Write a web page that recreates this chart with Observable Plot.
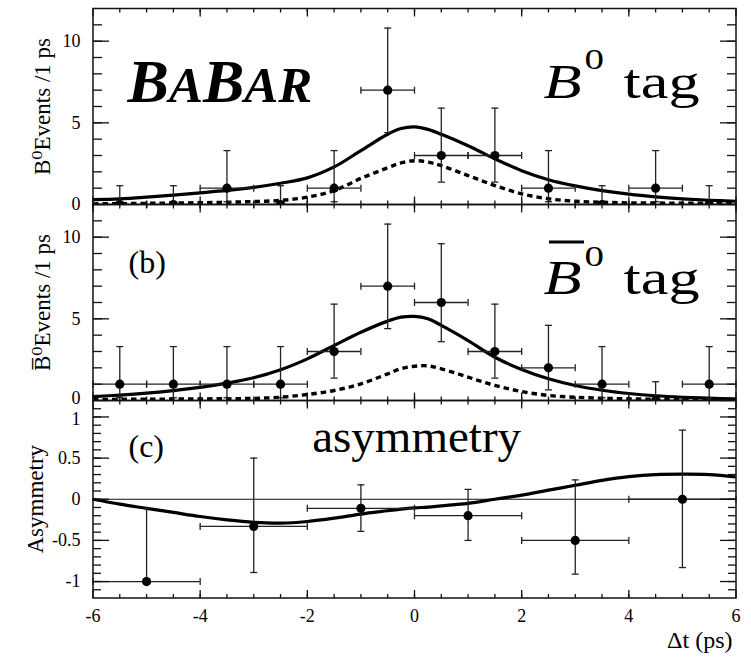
<!DOCTYPE html>
<html>
<head>
<meta charset="utf-8">
<script src="https://cdn.jsdelivr.net/npm/d3@7"></script>
<script src="https://cdn.jsdelivr.net/npm/@observablehq/plot@0.6"></script>
<style>
  html, body { margin: 0; padding: 0; background: #ffffff; }
  #chart { position: relative; width: 751px; height: 658px; overflow: hidden; background: #ffffff;
           font-family: 'Liberation Serif', 'Times New Roman', Times, 'DejaVu Serif', serif; }
  #chart svg { position: absolute; left: 0; }
  #chart svg text { font-family: 'Liberation Serif', 'Times New Roman', Times, 'DejaVu Serif', serif; }
</style>
</head>
<body>
<div id="chart"></div>
<script>
// ---------------- data ----------------
const binCenters = [-5.5, -4.5, -3.5, -2.5, -1.5, -0.5, 0.5, 1.5, 2.5, 3.5, 4.5, 5.5];
const binHalfWidth = 0.5;

// (a) B0 tag
const b0Counts  = [0, 0, 1, 0, 1, 7, 3, 3, 1, 0, 1, 0];
const b0ErrLow  = [0, 0, 0.17, 0, 0.17, 4.4, 1.37, 1.37, 0.17, 0, 0.17, 0];
const b0ErrHigh = [1.15, 1.15, 3.3, 1.15, 3.3, 10.8, 5.9, 5.9, 3.3, 1.15, 3.3, 1.15];

// (b) B0bar tag
const b0barCounts  = [1, 1, 1, 1, 3, 7, 6, 3, 2, 1, 0, 1];
const b0barErrLow  = [0.17, 0.17, 0.17, 0.17, 1.37, 4.4, 3.6, 1.37, 0.65, 0.17, 0, 0.17];
const b0barErrHigh = [3.3, 3.3, 3.3, 3.3, 5.9, 10.8, 9.6, 5.9, 4.6, 3.3, 1.15, 3.3];

// (c) asymmetry
const asymCenters   = [-5, -3, -1, 1, 3, 5];
const asymHalfWidth = 1;
const asymValues    = [-1, -0.33, -0.11, -0.2, -0.5, 0];
const asymErrLow    = [-1, -0.89, -0.39, -0.5, -0.91, -0.83];
const asymErrHigh   = [-0.11, 0.5, 0.175, 0.12, 0.235, 0.84];

// fit curves
const curveX      = [-6, -5.5, -5, -4.5, -4, -3.5, -3, -2.5, -2, -1.5, -1, -0.5, -0.25, 0, 0.25, 0.5, 1, 1.5, 2, 2.5, 3, 3.5, 4, 4.5, 5, 5.5, 6];
const b0Fit       = [0.30, 0.35, 0.45, 0.57, 0.71, 0.86, 1.05, 1.30, 1.63, 2.30, 3.30, 4.30, 4.65, 4.75, 4.60, 4.30, 3.60, 2.80, 2.07, 1.52, 1.14, 0.85, 0.63, 0.47, 0.35, 0.26, 0.20];
const b0Dashed    = [0.04, 0.05, 0.07, 0.09, 0.11, 0.14, 0.18, 0.25, 0.45, 0.85, 1.60, 2.25, 2.55, 2.68, 2.60, 2.38, 1.77, 1.16, 0.65, 0.35, 0.20, 0.14, 0.10, 0.09, 0.08, 0.07, 0.06];
const b0barFit    = [0.24, 0.33, 0.45, 0.61, 0.80, 1.06, 1.39, 1.88, 2.55, 3.37, 4.18, 4.86, 5.10, 5.15, 5.00, 4.60, 3.67, 2.65, 1.90, 1.33, 0.92, 0.63, 0.43, 0.29, 0.20, 0.14, 0.10];
const b0barDashed = [0.06, 0.07, 0.08, 0.09, 0.10, 0.11, 0.13, 0.20, 0.37, 0.61, 1.02, 1.63, 1.95, 2.10, 2.12, 1.94, 1.43, 0.92, 0.55, 0.31, 0.20, 0.14, 0.10, 0.08, 0.06, 0.05, 0.04];
const asymFit     = [0, -0.06, -0.11, -0.16, -0.21, -0.25, -0.28, -0.29, -0.27, -0.23, -0.18, -0.14, -0.12, -0.105, -0.095, -0.08, -0.05, 0.0, 0.05, 0.11, 0.17, 0.23, 0.275, 0.30, 0.305, 0.30, 0.27];

// axis ticks / labels
const xDomain = [-6, 6];
const xTickLabels = [-6, -4, -2, 0, 2, 4, 6];
const xMinorTicks = d3.range(-5.5, 6, 0.5);
const countDomain = [0, 12];
const countTickLabels = [0, 5, 10];
const countMinorTicks = d3.range(1, 12, 1);
const asymDomain = [-1.2, 1.2];
const asymTickLabels = [-1, -0.5, 0, 0.5, 1];
const asymMinorTicks = d3.range(-11, 12, 1).map(d => d / 10);

// ---------------- style / helpers ----------------
const FONT = "'Liberation Serif', 'Times New Roman', Times, 'DejaVu Serif', serif";
const ML = 92.5, MR = 15.5;
const INK = "#000";
const TICK_FONT = 18;

const lineShape = { draw(context, l) { context.moveTo(0, 0); context.lineTo(0, -l); } };
const tickStyle = { shape: lineShape, anchor: "start", stroke: "#111", strokeWidth: 1.3, strokeLinecap: "butt" };
const capStyle  = { shape: lineShape, anchor: "middle", stroke: "#222", strokeWidth: 1.3, strokeLinecap: "butt", length: 7 };

function frameTicks(xSets, ySets) {
  const marks = [];
  for (const [vals, len] of xSets) {
    marks.push(Plot.vector(vals, {...tickStyle, x: d => d, frameAnchor: "bottom", rotate: 0, length: len}));
    marks.push(Plot.vector(vals, {...tickStyle, x: d => d, frameAnchor: "top", rotate: 180, length: len}));
  }
  for (const [vals, len] of ySets) {
    marks.push(Plot.vector(vals, {...tickStyle, y: d => d, frameAnchor: "left", rotate: 90, length: len}));
    marks.push(Plot.vector(vals, {...tickStyle, y: d => d, frameAnchor: "right", rotate: 270, length: len}));
  }
  return marks;
}

function yLabels(ticks, dy = 0) {
  return Plot.axisY({ticks, tickSize: 0, tickPadding: 12.5, fontSize: TICK_FONT, fontFamily: FONT, tickFormat: d => String(d), label: null, dy});
}

function txt(s, o) {
  return Plot.text([s], {text: d => d, fontFamily: FONT, fill: INK, lineAnchor: "bottom", textAnchor: "start", frameAnchor: "top-left", ...o});
}
function yTitle(s, dx) {
  return Plot.text([s], {text: d => d, fontFamily: FONT, fill: INK, frameAnchor: "left", rotate: -90, dx, fontSize: 23, textAnchor: "middle", lineAnchor: "middle"});
}
// a short straight bar placed relative to the frame (overline of the B-bar label)
function bar(dx, dy, len) {
  return Plot.vector([0], {frameAnchor: "top-left", dx, dy, rotate: 90, length: len, anchor: "start", shape: lineShape, stroke: INK, strokeWidth: 3, strokeLinecap: "butt"});
}

function dataMarks(centers, halfWidth, values, lo, hi) {
  const idx = d3.range(centers.length);
  const withLow = idx.filter(i => lo[i] < values[i]);
  return [
    Plot.ruleX(idx, {x: i => centers[i], y1: i => lo[i], y2: i => hi[i], stroke: "#222", strokeWidth: 1.3, clip: true}),
    Plot.ruleY(idx, {y: i => values[i], x1: i => centers[i] - halfWidth, x2: i => centers[i] + halfWidth, stroke: "#222", strokeWidth: 1.3, clip: true}),
    Plot.vector(idx, {...capStyle, x: i => centers[i], y: i => hi[i], rotate: 90}),
    Plot.vector(withLow, {...capStyle, x: i => centers[i], y: i => lo[i], rotate: 90}),
    Plot.vector(idx, {...capStyle, x: i => centers[i] - halfWidth, y: i => values[i], rotate: 0}),
    Plot.vector(idx, {...capStyle, x: i => centers[i] + halfWidth, y: i => values[i], rotate: 0}),
    Plot.dot(idx, {x: i => centers[i], y: i => values[i], r: 4.6, fill: INK, stroke: null, clip: true})
  ];
}

function curveMarks(fit, dashed) {
  const ci = d3.range(curveX.length);
  const m = [];
  if (dashed) m.push(Plot.line(ci, {x: i => curveX[i], y: i => dashed[i], curve: "catmull-rom", stroke: INK, strokeWidth: 3.4, strokeDasharray: "5.5,4", strokeLinecap: "butt", clip: true}));
  m.push(Plot.line(ci, {x: i => curveX[i], y: i => fit[i], curve: "catmull-rom", stroke: INK, strokeWidth: 3.2, clip: true}));
  return m;
}

function makePlot({height, marginTop, marginBottom, yDomain, xAxis, marks}) {
  return Plot.plot({
    width: 751, height, marginLeft: ML, marginRight: MR, marginTop, marginBottom,
    x: xAxis ? {domain: xDomain} : {domain: xDomain, axis: null},
    y: {domain: yDomain},
    style: {background: "transparent", overflow: "visible", color: INK},
    marks
  });
}

// ---------------- panel (a) ----------------
const panelA = makePlot({
  height: 210, marginTop: 8, marginBottom: 6, yDomain: countDomain,
  marks: [
    ...curveMarks(b0Fit, b0Dashed),
    ...dataMarks(binCenters, binHalfWidth, b0Counts, b0ErrLow, b0ErrHigh),
    ...frameTicks([[xTickLabels, 8], [xMinorTicks, 4]], [[countTickLabels, 16], [countMinorTicks, 9]]),
    Plot.frame({stroke: "#111", strokeWidth: 1.5}),
    yLabels(countTickLabels),
    yTitle("B\u2070Events /1 ps", -50),
    txt("B", {dx: 34.5, dy: 93, fontSize: 62, fontWeight: "bold", fontStyle: "italic"}),
    txt("A", {dx: 75.9, dy: 93, fontSize: 51, fontWeight: "bold", fontStyle: "italic"}),
    txt("B", {dx: 109.9, dy: 93, fontSize: 62, fontWeight: "bold", fontStyle: "italic"}),
    txt("A", {dx: 151.3, dy: 93, fontSize: 51, fontWeight: "bold", fontStyle: "italic"}),
    txt("R", {dx: 185.3, dy: 93, fontSize: 51, fontWeight: "bold", fontStyle: "italic"}),
    txt("B", {dx: 450.5, dy: 89, fontSize: 48, fontStyle: "italic"}),
    txt("0", {dx: 491.5, dy: 60, fontSize: 30}),
    txt("tag", {dx: 530.5, dy: 89, fontSize: 48})
  ]
});

// ---------------- panel (b) ----------------
const panelB = makePlot({
  height: 208, marginTop: 6, marginBottom: 6, yDomain: countDomain,
  marks: [
    ...curveMarks(b0barFit, b0barDashed),
    ...dataMarks(binCenters, binHalfWidth, b0barCounts, b0barErrLow, b0barErrHigh),
    ...frameTicks([[xTickLabels, 8], [xMinorTicks, 4]], [[countTickLabels, 16], [countMinorTicks, 9]]),
    Plot.frame({stroke: "#111", strokeWidth: 1.5}),
    yLabels(countTickLabels.filter(d => d !== 0)),
    yLabels([0], -2.5),
    yTitle("B\u0305\u2070Events /1 ps", -50),
    txt("(b)", {dx: 35.5, dy: 68.7, fontSize: 32}),
    bar(456, 37.5, 35),
    txt("B", {dx: 450.5, dy: 89, fontSize: 48, fontStyle: "italic"}),
    txt("0", {dx: 491.5, dy: 61, fontSize: 30}),
    txt("tag", {dx: 530.5, dy: 89, fontSize: 48})
  ]
});

// ---------------- panel (c) ----------------
const panelC = makePlot({
  height: 264, marginTop: 6, marginBottom: 60.5, yDomain: asymDomain, xAxis: true,
  marks: [
    Plot.ruleY([0], {stroke: "#111", strokeWidth: 1.2}),
    ...curveMarks(asymFit, null),
    ...dataMarks(asymCenters, asymHalfWidth, asymValues, asymErrLow, asymErrHigh),
    ...frameTicks([[xTickLabels, 8], [xMinorTicks, 4]], [[asymTickLabels, 16], [asymMinorTicks, 8]]),
    Plot.frame({stroke: "#111", strokeWidth: 1.5}),
    yLabels(asymTickLabels.filter(d => d !== 1)),
    yLabels([1], 2.5),
    Plot.axisX({ticks: xTickLabels, tickSize: 0, tickPadding: 11, fontSize: TICK_FONT, fontFamily: FONT, tickFormat: d => String(d), label: null}),
    yTitle("Asymmetry", -57),
    txt("(c)", {dx: 35.5, dy: 56.7, fontSize: 32}),
    txt("asymmetry", {dx: 219.2, dy: 51.7, fontSize: 47}),
    Plot.text(["\u0394t (ps)"], {text: d => d, fontFamily: FONT, fill: INK, frameAnchor: "bottom-right", dx: -3.5, dy: 49.5, textAnchor: "end", lineAnchor: "bottom", fontSize: 24})
  ]
});

// ---------------- mount ----------------
const chart = document.getElementById("chart");
function mount(svg, top) {
  svg.style.top = top + "px";
  chart.appendChild(svg);
  // widen the large "B0 tag" labels horizontally like the original
  d3.select(svg).selectAll("text").each(function () {
    const fs = +this.parentNode.getAttribute("font-size");
    if (fs === 48 || fs === 30) {
      const t = this.getAttribute("transform") || "";
      this.setAttribute("transform", t + " scale(1.3,1)");
    }
  });
}
mount(panelA, 0);
mount(panelB, 198);
mount(panelC, 394);
</script>
</body>
</html>
